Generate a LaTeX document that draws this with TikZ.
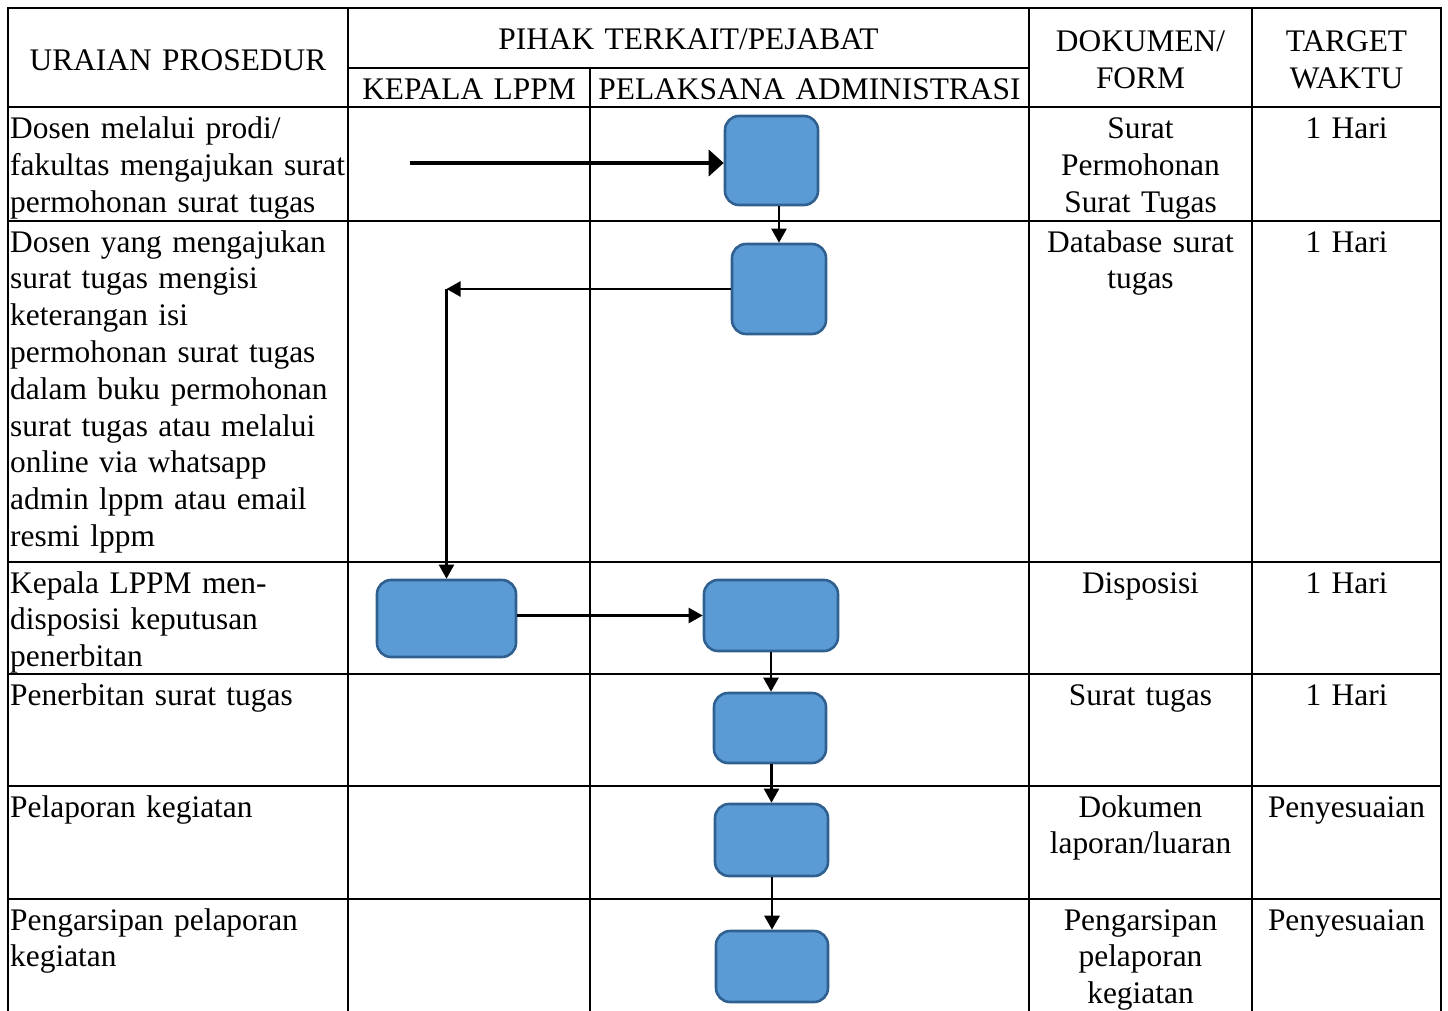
\documentclass[tikz,border=0pt]{standalone}
\usepackage{fontspec}
\setmainfont{Liberation Serif}
\usetikzlibrary{arrows.meta}
\definecolor{boxfill}{HTML}{5B9BD5}
\definecolor{boxline}{HTML}{30608F}
\tikzset{
  grid/.style={line width=2.7pt, line cap=rect},
  proc/.style={draw=boxline, fill=boxfill, line width=2.6pt, rounded corners=14pt, inner sep=0pt},
  arr/.style={line width=2.3pt, -{Triangle[length=14pt,width=15pt]}},
  arrbig/.style={line width=4.2pt, -{Triangle[length=15pt,width=26pt]}},
  ltxt/.style={inner sep=0pt, text width=340pt, align=left, anchor=base west},
  ctxt/.style={inner sep=0pt, text width=#1, align=center, anchor=base},
}
\begin{document}
\begin{tikzpicture}[x=1pt,y=-1pt,font=\fontsize{31.4}{36.8}\selectfont]
\useasboundingbox (0,0) rectangle (1448,1011);
% table grid
\foreach \yy in {8,107,221,562,674,786,899} \draw[grid] (8,\yy) -- (1441,\yy);
\draw[grid] (348,68) -- (1029,68);
\foreach \xx in {8,348,1029,1252,1441} \draw[grid] (\xx,8) -- (\xx,1012);
\draw[grid] (590,68) -- (590,1012);
% header
\node[ctxt=330pt] (hU) at (178,71) {URAIAN PROSEDUR};
\node[ctxt=670pt] (hP) at (688.5,50) {PIHAK TERKAIT/PEJABAT};
\node[ctxt=240pt] (hK) at (469,100) {KEPALA LPPM};
\node[ctxt=440pt] (hA) at (809.5,100) {PELAKSANA ADMINISTRASI};
\node[ctxt=220pt] (hD) at (1140.5,52) {DOKUMEN/\\FORM};
\node[ctxt=185pt] (hT) at (1346.5,52) {TARGET\\WAKTU};
% column 1
\node[ltxt] (u1) at (10,139) {Dosen melalui prodi/\\fakultas mengajukan surat\\permohonan surat tugas};
\node[ltxt] (u2) at (10,252) {Dosen yang mengajukan\\surat tugas mengisi\\keterangan isi\\permohonan surat tugas\\dalam buku permohonan\\surat tugas atau melalui\\online via whatsapp\\admin lppm atau email\\resmi lppm};
\node[ltxt] (u3) at (10,593) {Kepala LPPM men-\\disposisi keputusan\\penerbitan};
\node[ltxt] (u4) at (10,705) {Penerbitan surat tugas};
\node[ltxt] (u5) at (10,817) {Pelaporan kegiatan};
\node[ltxt] (u6) at (10,930) {Pengarsipan pelaporan\\kegiatan};
% column dokumen
\node[ctxt=220pt] (d1) at (1140.5,139) {Surat\\Permohonan\\Surat Tugas};
\node[ctxt=220pt] (d2) at (1140.5,252) {Database surat\\tugas};
\node[ctxt=220pt] (d3) at (1140.5,593) {Disposisi};
\node[ctxt=220pt] (d4) at (1140.5,705) {Surat tugas};
\node[ctxt=220pt] (d5) at (1140.5,817) {Dokumen\\laporan/luaran};
\node[ctxt=220pt] (d6) at (1140.5,930) {Pengarsipan\\pelaporan\\kegiatan};
% column waktu
\node[ctxt=185pt] (w1) at (1346.5,139) {1 Hari};
\node[ctxt=185pt] (w2) at (1346.5,252) {1 Hari};
\node[ctxt=185pt] (w3) at (1346.5,593) {1 Hari};
\node[ctxt=185pt] (w4) at (1346.5,705) {1 Hari};
\node[ctxt=185pt] (w5) at (1346.5,817) {Penyesuaian};
\node[ctxt=185pt] (w6) at (1346.5,930) {Penyesuaian};
% process boxes
\node[proc, minimum width=93pt, minimum height=89pt] (b1) at (771.5,160.5) {};
\node[proc, minimum width=94pt, minimum height=90pt] (b2) at (779,289) {};
\node[proc, minimum width=139pt, minimum height=77pt] (b3) at (446.5,618.5) {};
\node[proc, minimum width=134pt, minimum height=71pt] (b4) at (771,615.5) {};
\node[proc, minimum width=112pt, minimum height=70pt] (b5) at (770,728) {};
\node[proc, minimum width=113pt, minimum height=72pt] (b6) at (771.5,840) {};
\node[proc, minimum width=112pt, minimum height=71pt] (b7) at (772,966.5) {};
% connectors
\coordinate (s1) at (410,163);
\draw[arrbig] (s1) -- (b1.west |- s1);
\draw[arr] (b1.south -| b2.north) -- (b2.north);
\coordinate (c1) at (b3.north |- b2.west);
\draw[arr] (b2.west) -- (c1);
\draw[arr] (c1) -- (b3.north);
\draw[arr] (b3.east |- b4.west) -- (b4.west);
\draw[arr] (b4.south) -- (b4.south |- b5.north);
\draw[arr] (b5.south -| b6.north) -- (b6.north);
\draw[arr, line width=2.9pt] (b6.south -| b7.north) -- (b7.north);
\end{tikzpicture}
\end{document}
